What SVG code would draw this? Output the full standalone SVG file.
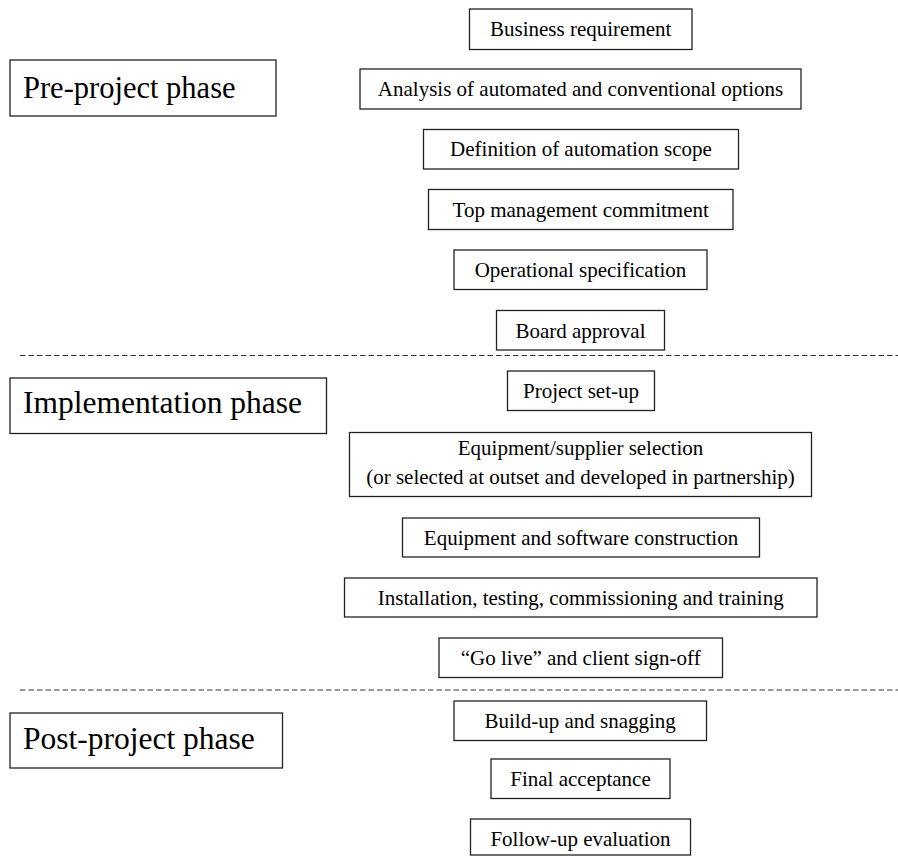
<svg xmlns="http://www.w3.org/2000/svg" width="898" height="856" viewBox="0 0 898 856">
<style>
rect{fill:#fff;stroke:#222;stroke-width:1.3}
text{font-family:"Liberation Serif","Times New Roman",serif;fill:#000}
.n{font-size:21px;text-anchor:middle}
.p{font-size:30.5px}
.d{stroke:#333;stroke-width:1.2;stroke-dasharray:5.5 3;fill:none}
</style>
<rect x="0" y="0" width="898" height="856" style="stroke:none"/>
<g id="connectors">
<line class="d" x1="20" y1="355.5" x2="898" y2="355.5"/>
<line class="d" x1="20" y1="690" x2="898" y2="690"/>
</g>
<g id="pre-project"><rect x="10" y="60" width="266" height="56"/><text class="p" x="23" y="98">Pre-project phase</text></g>
<g id="implementation"><rect x="10" y="378" width="316.5" height="55.5"/><text class="p" x="23" y="412.5" style="font-size:31.5px">Implementation phase</text></g>
<g id="post-project"><rect x="10" y="713" width="272.5" height="55"/><text class="p" x="23" y="749" style="font-size:31.5px">Post-project phase</text></g>
<g id="n1"><rect x="469.5" y="9" width="222.5" height="40.5"/><text class="n" x="580.7" y="36">Business requirement</text></g>
<g id="n2"><rect x="360" y="69" width="441" height="40"/><text class="n" x="580.5" y="96">Analysis of automated and conventional options</text></g>
<g id="n3"><rect x="423.5" y="129.5" width="315" height="39.5"/><text class="n" x="581" y="156">Definition of automation scope</text></g>
<g id="n4"><rect x="428.5" y="189.5" width="304.5" height="40"/><text class="n" x="580.7" y="216.5">Top management commitment</text></g>
<g id="n5"><rect x="454" y="250" width="253" height="39.5"/><text class="n" x="580.5" y="277">Operational specification</text></g>
<g id="n6"><rect x="496.5" y="310.5" width="168" height="39.5"/><text class="n" x="580.5" y="337.5">Board approval</text></g>
<g id="n7"><rect x="507.5" y="371" width="147" height="39.5"/><text class="n" x="581" y="398">Project set-up</text></g>
<g id="n8"><rect x="349.5" y="432.5" width="462" height="64"/><text class="n" x="580.5" y="455">Equipment/supplier selection</text><text class="n" x="580.5" y="483.5">(or selected at outset and developed in partnership)</text></g>
<g id="n9"><rect x="402.5" y="518" width="357" height="39"/><text class="n" x="581" y="545">Equipment and software construction</text></g>
<g id="n10"><rect x="344.5" y="578" width="472.5" height="39"/><text class="n" x="580.7" y="605">Installation, testing, commissioning and training</text></g>
<g id="n11"><rect x="439" y="638" width="283.5" height="39.5"/><text class="n" x="580.7" y="665">“Go live” and client sign-off</text></g>
<g id="n12"><rect x="454" y="701" width="252.5" height="39.5"/><text class="n" x="580.2" y="728">Build-up and snagging</text></g>
<g id="n13"><rect x="491" y="759" width="179" height="39.5"/><text class="n" x="580.5" y="786">Final acceptance</text></g>
<g id="n14"><rect x="470.5" y="819" width="220" height="36"/><text class="n" x="580.5" y="846">Follow-up evaluation</text></g>
</svg>
